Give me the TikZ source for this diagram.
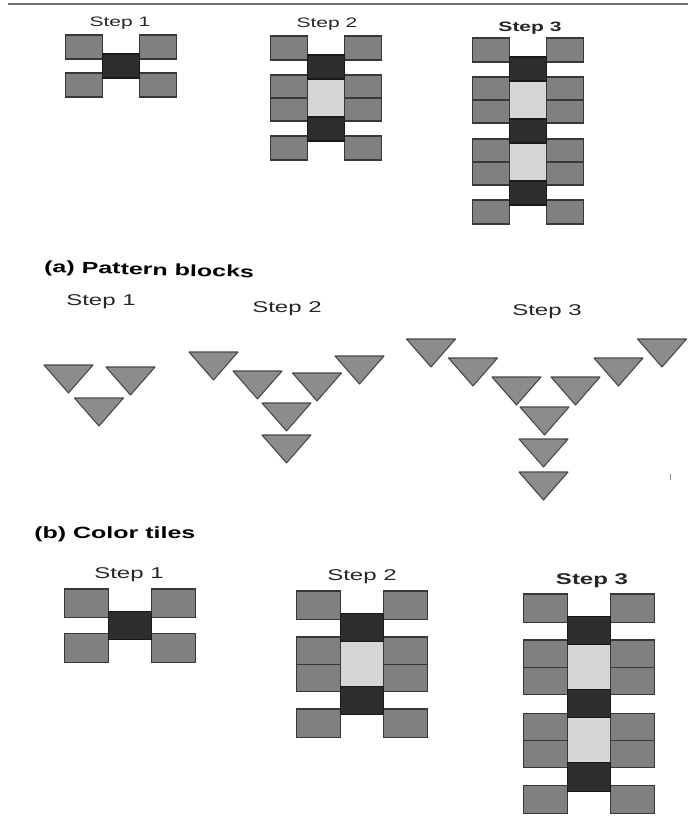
\documentclass[tikz,border=0pt]{standalone}
\usepackage{fontspec}
\setmainfont{Liberation Sans}
\newcommand{\squashtext}[1]{\scalebox{1}[0.65]{#1}}

\begin{document}
\begin{tikzpicture}[x=0.75pt, y=-0.75pt,
  graytile/.style={fill=black!50, draw=black!78, line width=0.8pt},
  darktile/.style={fill=black!82, draw=black!90, line width=0.8pt},
  lighttile/.style={fill=black!16, draw=black!78, line width=0.8pt},
  block/.style={fill=black!45, draw=black!72, line width=0.8pt, line join=round},
  steplabel/.style={font=\fontsize{15.75}{16}\selectfont, text=black!85, inner sep=0pt},
  bigstep/.style={font=\fontsize{18}{19}\selectfont, text=black!85, inner sep=0pt},
  header/.style={font=\bfseries\fontsize{18.75}{20}\selectfont, anchor=west, inner sep=0pt}]

% Page size (pixels of the reference)
\useasboundingbox (0,0) rectangle (688,817);

% Rule at the top
\draw[black!55, line width=1.2pt] (8,4) -- (688,4);

% Labels of the first row
\node[steplabel] (top1) at (120,23) {\squashtext{Step 1}};
\node[steplabel] (top2) at (327,24) {\squashtext{Step 2}};
\node[steplabel, font=\bfseries\fontsize{15.75}{16}\selectfont] (top3) at (530,28) {\squashtext{Step 3}};

% Pattern blocks
\node[header, rotate=-1.5] (capa) at (44,268) {\squashtext{(a) Pattern blocks}};
\node[bigstep] (blk1) at (101,302) {\squashtext{Step 1}};
\node[bigstep] (blk2) at (287,309) {\squashtext{Step 2}};
\node[bigstep] (blk3) at (547,312) {\squashtext{Step 3}};

% Triangles (top centre of each one)
\foreach \x/\y in {68.5/365, 130.5/367, 99/398,
                   213.5/352, 257.5/371, 317/373, 359.5/356, 286.5/403, 286.5/435,
                   431/339, 473/358, 516.5/377, 575.5/377, 618.5/358, 662/339,
                   544.5/407, 543.5/439, 543.5/472}
{
    \draw[block] (\x-24.5,\y) -- (\x+24.5,\y) -- (\x,\y+28) -- cycle;
}

% Small mark of the scan
\draw[black!45, line width=0.6pt] (670,474) -- (670,480);

% Color tiles
\node[header] (capb) at (34,534) {\squashtext{(b) Color tiles}};
\node[bigstep] (col1) at (129,575) {\squashtext{Step 1}};
\node[bigstep] (col2) at (362,577) {\squashtext{Step 2}};
\node[bigstep, font=\bfseries\fontsize{18}{19}\selectfont] (col3) at (592,581) {\squashtext{Step 3}};

% Tile figures: centre x / top y / size / number of dark tiles
\foreach \cx/\ty/\sc/\n in {121/35/1/1, 326/36/1/2, 528/38/1/3,
                            130/589/1.18/1, 362/591/1.18/2, 589/594/1.18/3}
{
  \begin{scope}[shift={(\cx,\ty)}, scale=\sc]
    % corner tiles
    \draw[graytile] (-55.5,0) rectangle (-18.5,24);
    \draw[graytile] (18.5,0) rectangle (55.5,24);
    \draw[graytile] (-55.5,62*\n-24) rectangle (-18.5,62*\n);
    \draw[graytile] (18.5,62*\n-24) rectangle (55.5,62*\n);
    % light tiles with two gray tiles on each side
    \ifnum\n>1
      \pgfmathtruncatemacro\m{\n-1}
      \foreach \k in {1,...,\m}
      {
        \draw[graytile] (-55.5,62*\k-23) rectangle (-18.5,62*\k);
        \draw[graytile] (-55.5,62*\k) rectangle (-18.5,62*\k+23);
        \draw[graytile] (18.5,62*\k-23) rectangle (55.5,62*\k);
        \draw[graytile] (18.5,62*\k) rectangle (55.5,62*\k+23);
        \draw[lighttile] (-18.5,62*\k-19) rectangle (18.5,62*\k+19);
      }
    \fi
    % dark tiles
    \foreach \k in {1,...,\n}
    {
      \draw[darktile] (-18.5,62*\k-43) rectangle (18.5,62*\k-19);
    }
  \end{scope}
}

\end{tikzpicture}
\end{document}
